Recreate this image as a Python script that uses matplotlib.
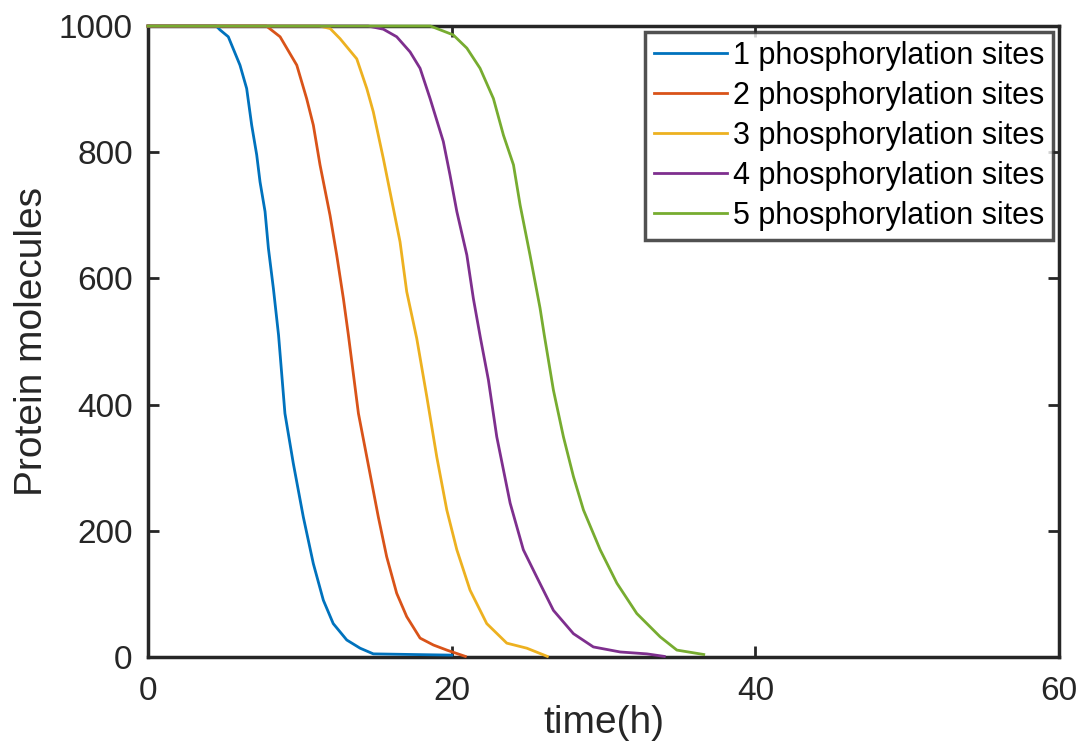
import matplotlib
matplotlib.use("Agg")
import matplotlib.pyplot as plt

plt.rcParams['font.family'] = ['Liberation Sans', 'DejaVu Sans']

labels = ["1 phosphorylation sites", "2 phosphorylation sites", "3 phosphorylation sites",
          "4 phosphorylation sites", "5 phosphorylation sites"]
colors = ["#0072BD", "#D95319", "#EDB120", "#7E2F8E", "#77AC30"]

t1 = [0, 4.5, 4.74, 5.29, 6.06, 6.5, 6.83, 7.16, 7.38, 7.71, 7.93, 8.26, 8.6, 9.02, 9.57,
      10.23, 10.89, 11.55, 12.2, 13.09, 13.97, 14.84, 20.0]
y1 = [1000, 1000, 994, 983, 938, 901, 843, 796, 753, 706, 648, 584, 510, 386, 307,
      222, 148, 90, 53, 27, 14, 5, 3]

t2 = [0, 7.8, 8.7, 9.14, 9.8, 10.45, 10.89, 11.33, 11.99, 12.43, 12.87, 13.2, 13.86, 14.62,
      15.17, 15.72, 16.38, 17.04, 17.92, 18.8, 19.68, 20.9]
y2 = [1000, 1000, 983, 965, 938, 885, 843, 780, 700, 637, 568, 510, 386, 291,
      222, 159, 101, 64, 30, 19, 11, 1]

t3 = [0, 11.3, 12.0, 12.65, 13.75, 14.41, 14.84, 15.5, 16.16, 16.6, 17.04, 17.7, 18.36,
      19.02, 19.68, 20.34, 21.21, 22.31, 23.63, 24.95, 26.3]
y3 = [1000, 1000, 996, 980, 948, 901, 864, 790, 711, 658, 579, 505, 413,
      317, 233, 170, 106, 53, 22, 14, 1]

t4 = [0, 14.5, 15.5, 16.38, 17.26, 17.92, 18.58, 19.45, 19.89, 20.34, 21.0, 21.43, 21.9,
      22.42, 22.97, 23.85, 24.72, 25.6, 26.7, 28.02, 29.33, 31.1, 32.85, 34.0]
y4 = [1000, 1000, 995, 983, 959, 933, 885, 817, 764, 706, 637, 568, 505,
      439, 349, 244, 170, 127, 74, 37, 16, 8, 5, 1]

t5 = [0, 18.6, 20.1, 21.0, 21.87, 22.75, 23.41, 24.07, 24.51, 25.16, 25.82, 26.1, 26.7,
      27.36, 28.02, 28.68, 29.78, 30.88, 32.19, 33.73, 34.83, 36.6]
y5 = [1000, 1000, 986, 965, 933, 885, 827, 780, 716, 637, 553, 510, 423,
      349, 286, 233, 170, 117, 69, 32, 11, 4]

series_t = [t1, t2, t3, t4, t5]
series_y = [y1, y2, y3, y4, y5]

xticks = [0, 20, 40, 60]
yticks = [0, 200, 400, 600, 800, 1000]

fig = plt.figure(figsize=(10.84, 7.44), dpi=100)
ax = fig.add_axes([0.1365, 0.1169, 0.8405, 0.8481])

for t, y, c, lab in zip(series_t, series_y, colors, labels):
    ax.plot(t, y, color=c, lw=2.0, label=lab, zorder=3, clip_on=False)

ax.set_xlim(0, 60)
ax.set_ylim(0, 1000)
ax.set_xticks(xticks)
ax.set_yticks(yticks)
ax.tick_params(direction='in', length=8, width=2, top=True, right=True,
               labelsize=24, colors='#262626', pad=11)
ax.tick_params(axis='x', pad=14)
for sp in ax.spines.values():
    sp.set_linewidth(2.5)
    sp.set_color('#262626')

ax.set_xlabel("time(h)", fontsize=28, color='#262626', labelpad=-2)
ax.set_ylabel("Protein molecules", fontsize=28, color='#262626', labelpad=6)

leg = ax.legend(loc='upper right', fontsize=22, frameon=True, fancybox=False,
                edgecolor='#262626', handlelength=2.4, handletextpad=0.2,
                borderpad=0.28, labelspacing=0.33, borderaxespad=0.2)
leg.get_frame().set_linewidth(2.5)

fig.savefig("out.png", dpi=100)
